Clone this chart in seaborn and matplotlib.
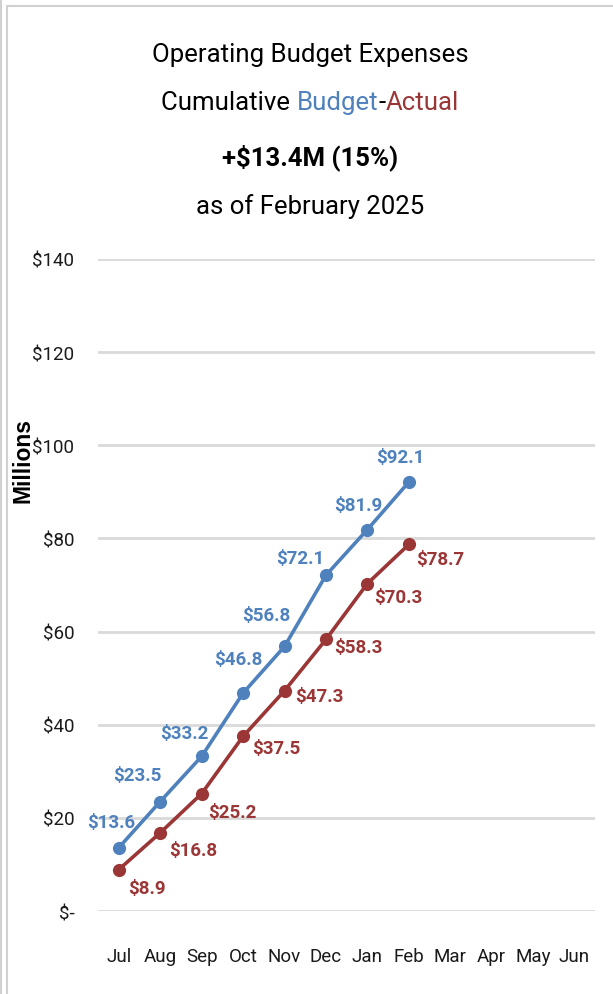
import pandas as pd
import matplotlib
matplotlib.use('Agg')
import matplotlib.pyplot as plt
import seaborn as sns
from matplotlib.lines import Line2D

# Cumulative operating budget vs actual, in $ millions
months = ['Jul', 'Aug', 'Sep', 'Oct', 'Nov', 'Dec', 'Jan', 'Feb', 'Mar', 'Apr', 'May', 'Jun']
budget = [13.6, 23.5, 33.2, 46.8, 56.8, 72.1, 81.9, 92.1]
actual = [8.9, 16.8, 25.2, 37.5, 47.3, 58.3, 70.3, 78.7]
y_ticks = [0, 20, 40, 60, 80, 100, 120, 140]
y_tick_labels = ['$-', '$20', '$40', '$60', '$80', '$100', '$120', '$140']

# label placement (pixel offsets from the point)
budget_offsets = [(-8, 26), (-23, 27), (-17, 23), (-5, 34), (-18, 31), (-26, 17), (-9, 25), (-9, 25)]
actual_offsets = [(28, -18), (33, -17), (31, -18), (33, -12), (35, -5), (32, -8), (31, -13), (31, -15)]

BLUE = '#4f81bd'
RED = '#9b3636'

sns.set_style('white')
plt.rcParams['font.family'] = ['Roboto', 'DejaVu Sans']

df = pd.concat([
    pd.DataFrame({'month': months[:len(budget)], 'value': budget, 'series': 'Budget'}),
    pd.DataFrame({'month': months[:len(actual)], 'value': actual, 'series': 'Actual'}),
])
df['pos'] = df['month'].map({m: i for i, m in enumerate(months)})

fig = plt.figure(figsize=(6.13, 9.95), dpi=100)
ax = fig.add_axes([0.16, 0.0834, 0.811, 0.6553])

sns.lineplot(data=df, x='pos', y='value', hue='series', palette={'Budget': BLUE, 'Actual': RED},
             marker='o', markersize=9.5, markeredgewidth=0, linewidth=2.6, legend=False, ax=ax)

ax.set_xlim(-0.5, len(months) - 0.5)
ax.set_ylim(0, 140)
ax.set_xticks(range(len(months)))
ax.set_xticklabels(months, fontsize=13.5, color='#1a1a1a')
ax.set_yticks(y_ticks)
ax.set_yticklabels(y_tick_labels, fontsize=13.5, color='#1a1a1a')
ax.tick_params(axis='x', length=0, pad=26)
ax.tick_params(axis='y', length=0, pad=17)
ax.grid(axis='y', color='#d9d9d9', linewidth=2)
ax.set_axisbelow(True)
for s in ax.spines.values():
    s.set_visible(False)
ax.set_xlabel('')
ax.set_ylabel('')

#data labels
for i, v in enumerate(budget):
    ax.annotate(f'${v:.1f}', (i, v), xytext=budget_offsets[i], textcoords='offset pixels',
                ha='center', va='center', fontsize=13.5, fontweight='bold', color=BLUE)
for i, v in enumerate(actual):
    ax.annotate(f'${v:.1f}', (i, v), xytext=actual_offsets[i], textcoords='offset pixels',
                ha='center', va='center', fontsize=13.5, fontweight='bold', color=RED)

fig.text(0.038, 0.537, 'Millions', rotation=90, ha='center', va='center',
         fontsize=16.5, fontweight='bold', color='black', family=['Liberation Sans', 'DejaVu Sans'])

# title block
cx = 0.506
fig.text(cx, 0.9447, 'Operating Budget Expenses', ha='center', va='center', fontsize=18.5, color='black')
parts = [('Cumulative ', 'black'), ('Budget', BLUE), ('-', 'black'), ('Actual', RED)]
texts = [fig.text(0, 0.8965, p, ha='left', va='center', fontsize=18.5, color=c) for p, c in parts]
fig.text(cx, 0.842, '+$13.4M (15%)', ha='center', va='center', fontsize=18.5, fontweight='bold', color='black')
fig.text(cx, 0.792, 'as of February 2025', ha='center', va='center', fontsize=18.5, color='black')

fig.canvas.draw()
r = fig.canvas.get_renderer()
widths = [t.get_window_extent(r).width / fig.bbox.width for t in texts]
x = cx - sum(widths) / 2
for t, w in zip(texts, widths):
    t.set_x(x)
    x += w

# chart frame lines
fig.add_artist(Line2D([0.002, 0.002], [0, 1], color='#d0d0d0', linewidth=1.5))
fig.add_artist(Line2D([0.012, 0.012], [0, 0.993], color='#d0d0d0', linewidth=1.5))
fig.add_artist(Line2D([0.012, 1], [0.993, 0.993], color='#d0d0d0', linewidth=1.5))

fig.savefig('out.png', dpi=100)
